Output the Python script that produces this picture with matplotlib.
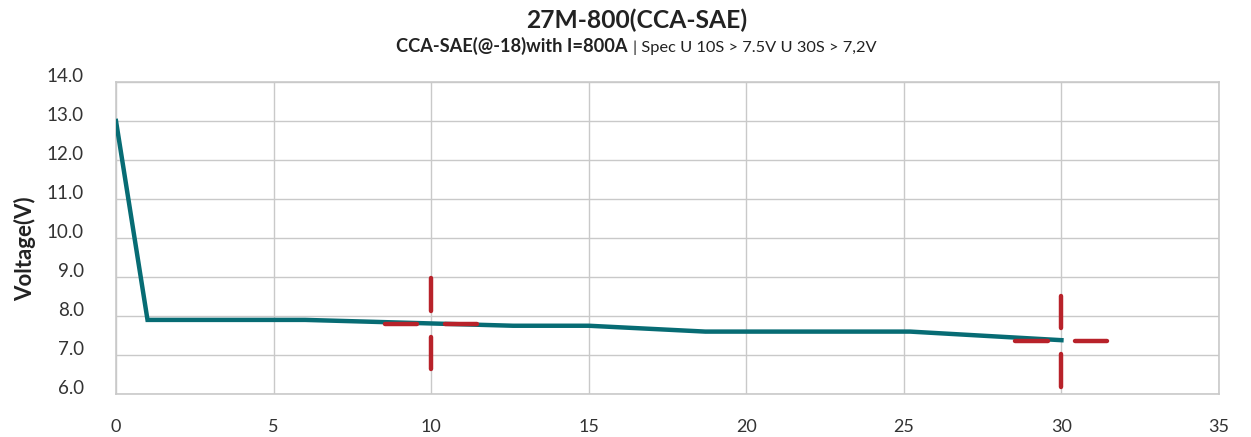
import matplotlib.pyplot as plt
from matplotlib.transforms import ScaledTranslation

# data
time_s = [0, 1, 6, 12.6, 15, 18.7, 25.2, 30]
voltage = [13.0, 7.9, 7.9, 7.75, 7.75, 7.6, 7.6, 7.38]
spec_x = [10, 30]
spec_y = [7.8, 7.35]
x_ticks = [0, 5, 10, 15, 20, 25, 30, 35]
y_ticks = [6.0, 7.0, 8.0, 9.0, 10.0, 11.0, 12.0, 13.0, 14.0]

plt.rcParams['font.family'] = ['Lato', 'DejaVu Sans']

W, H = 1251, 437
fig = plt.figure(figsize=(W / 100, H / 100), dpi=100)
ax = fig.add_axes([116 / W, 1 - 394 / H, 1103 / W, 312 / H])

teal = '#076c74'
red = '#b8222a'
grey = '#c9c9c9'
dark = '#222222'

ax.plot(time_s, voltage, color=teal, lw=3.2, solid_joinstyle='miter', zorder=3)

# crosshair marks for the spec points
for cx, cy in zip(spec_x, spec_y):
    for a, b in [(0.44, 1.46), (-1.46, -0.44)]:
        ax.plot([cx + a, cx + b], [cy, cy], color=red, lw=3.2,
                solid_capstyle='round', zorder=4)
    for a, b in [(0.33, 1.17), (-1.17, -0.33)]:
        ax.plot([cx, cx], [cy + a, cy + b], color=red, lw=3.2,
                solid_capstyle='round', zorder=4)

ax.set_xlim(0, 35)
ax.set_ylim(6, 14)
ax.set_xticks(x_ticks)
ax.set_yticks(y_ticks)
ax.set_yticklabels([f'{v:.1f}' for v in y_ticks])
ax.grid(True, color=grey, lw=1)
ax.set_axisbelow(True)
for s in ax.spines.values():
    s.set_color(grey)
    s.set_linewidth(1.2)
ax.tick_params(length=0, labelsize=13.5, colors='#333333')
ax.tick_params(axis='y', pad=23)
ax.tick_params(axis='x', pad=18, labelsize=13)

off = ScaledTranslation(0, 5 / 72, fig.dpi_scale_trans)
for lab in ax.get_yticklabels():
    lab.set_transform(lab.get_transform() + off)

ax.set_ylabel('Voltage(V)', fontsize=16, fontweight='bold', color=dark)
ax.yaxis.set_label_coords(-0.072, 0.465)

renderer = fig.canvas.get_renderer()


def fit_text(x, y, s, width_px, fs, **kw):
    # size the text so its width matches the reference
    t = fig.text(x / W, 1 - y / H, s, fontsize=fs, va='baseline', color=dark, **kw)
    w = t.get_window_extent(renderer).width
    t.set_fontsize(fs * width_px / w)
    return t


fit_text(637, 28, '27M-800(CCA-SAE)', 221, 16, ha='center', fontweight='bold')
fit_text(628, 52, 'CCA-SAE(@-18)with I=800A', 231, 11, ha='right', fontweight='bold')
fit_text(633, 52, '| Spec U 10S > 7.5V U 30S > 7,2V', 243, 11, ha='left')

fig.savefig('out.png', dpi=100)
